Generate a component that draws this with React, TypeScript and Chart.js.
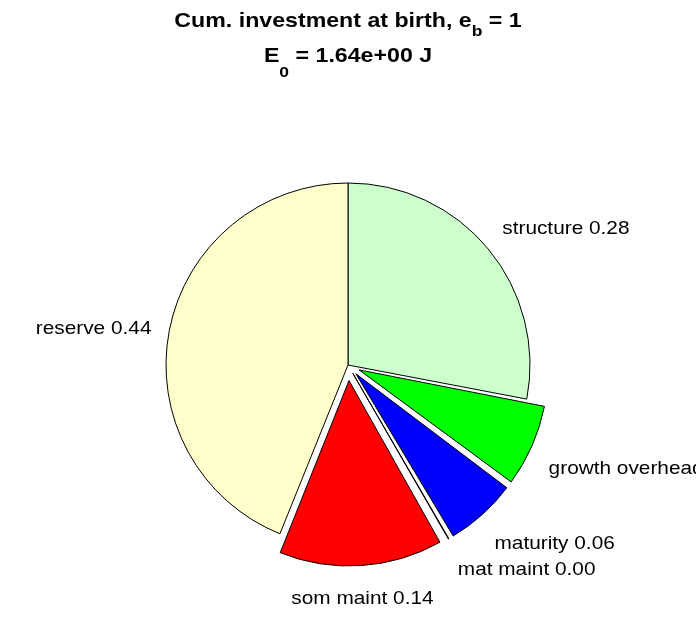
import React, { useEffect, useRef } from "react";
import { Chart, registerables } from "chart.js";

Chart.register(...registerables);

const categories = ["structure", "growth overhead", "maturity", "mat maint", "som maint", "reserve"];
const fractions = [0.28, 0.072, 0.063, 0.003, 0.143, 0.439];
const exploded = [false, true, true, true, true, false];
const sliceColors = ["#CCFFCC", "#00FF00", "#0000FF", "#B000B0", "#FF0000", "#FFFFCC"];
const titleLine1 = [
  { text: "Cum. investment at birth, e", sub: false },
  { text: "b", sub: true },
  { text: " = 1", sub: false },
];
const titleLine2 = [
  { text: "E", sub: false },
  { text: "0", sub: true },
  { text: " = 1.64e+00 J", sub: false },
];

const W = 696;
const H = 618;
const CX = 348;
const CY = 365;
const R = 182;
const SHIFT = 19;
const FONT = "Liberation Sans, Arial, sans-serif";
const TITLE_SIZE = 20.5;
const TITLE_SUB = 15.5;
const TITLE_STRETCH = 1.13;
const LABEL_SIZE = 18.5;
const LABEL_STRETCH = 1.125;

type Part = { text: string; sub: boolean };

function drawRich(ctx: CanvasRenderingContext2D, parts: Part[], cx: number, baseY: number, drop: number) {
  ctx.save();
  ctx.fillStyle = "#000";
  ctx.textBaseline = "alphabetic";
  ctx.textAlign = "left";
  let total = 0;
  for (const p of parts) {
    ctx.font = `bold ${p.sub ? TITLE_SUB : TITLE_SIZE}px ${FONT}`;
    total += ctx.measureText(p.text).width;
  }
  ctx.translate(cx, 0);
  ctx.scale(TITLE_STRETCH, 1);
  let x = -total / 2;
  for (const p of parts) {
    ctx.font = `bold ${p.sub ? TITLE_SUB : TITLE_SIZE}px ${FONT}`;
    ctx.fillText(p.text, x, p.sub ? baseY + drop : baseY);
    x += ctx.measureText(p.text).width;
  }
  ctx.restore();
}

const overlay = {
  id: "overlay",
  afterDraw(chart: any) {
    const ctx = chart.ctx as CanvasRenderingContext2D;
    drawRich(ctx, titleLine1, CX, 27, 9);
    drawRich(ctx, titleLine2, CX, 62, 15);
    const meta = chart.getDatasetMeta(0);
    const total = fractions.reduce((a, b) => a + b, 0);
    meta.data.forEach((arc: any, i: number) => {
      const { x, y, startAngle, endAngle, outerRadius } = arc.getProps(["x", "y", "startAngle", "endAngle", "outerRadius"], true);
      const mid = (startAngle + endAngle) / 2;
      const shift = exploded[i] ? SHIFT : 0;
      const d = shift + 1.1 * outerRadius;
      const c = Math.cos(mid);
      const s = Math.sin(mid);
      const px = x + c * d;
      let py = y + s * d;
      if (s > 0.3) py += 20.5;
      else if (s >= -0.3) py += 7;
      else py -= 3;
      const label = `${categories[i]} ${(fractions[i] / total).toFixed(2)}`;
      ctx.save();
      ctx.fillStyle = "#000";
      ctx.font = `${LABEL_SIZE}px ${FONT}`;
      ctx.textBaseline = "alphabetic";
      ctx.textAlign = Math.abs(c) < 0.1 ? "center" : c > 0 ? "left" : "right";
      ctx.translate(px, py);
      ctx.scale(LABEL_STRETCH, 1);
      ctx.fillText(label, 0, 0);
      ctx.restore();
    });
  },
};

export default function App() {
  const ref = useRef<HTMLCanvasElement>(null);
  useEffect(() => {
    if (!ref.current) return;
    const total = fractions.reduce((a, b) => a + b, 0);
    const offsets = fractions.map((f, i) => {
      if (!exploded[i]) return 0;
      const circ = (f / total) * 2 * Math.PI;
      return (4 * SHIFT) / (2 - Math.sin(Math.min(Math.PI, circ)));
    });
    const side = 2 * R + 40;
    const chart = new Chart(ref.current, {
      type: "pie",
      data: {
        labels: categories,
        datasets: [
          {
            data: fractions,
            backgroundColor: sliceColors,
            borderColor: "#000",
            borderWidth: 1,
            offset: offsets,
            hoverOffset: 0,
          },
        ],
      },
      options: {
        animation: false,
        responsive: false,
        devicePixelRatio: 1,
        radius: R,
        layout: {
          padding: {
            left: CX - side / 2,
            right: W - CX - side / 2,
            top: CY - side / 2,
            bottom: H - CY - side / 2,
          },
        },
        plugins: {
          legend: { display: false },
          title: { display: false },
          tooltip: { enabled: false },
        },
        events: [],
      } as any,
      plugins: [overlay],
    });
    return () => chart.destroy();
  }, []);
  return (
    <div style={{ position: "absolute", left: 0, top: 0, width: W, height: H, background: "#fff" }}>
      <canvas ref={ref} width={W} height={H} style={{ width: W, height: H, display: "block" }} />
    </div>
  );
}
